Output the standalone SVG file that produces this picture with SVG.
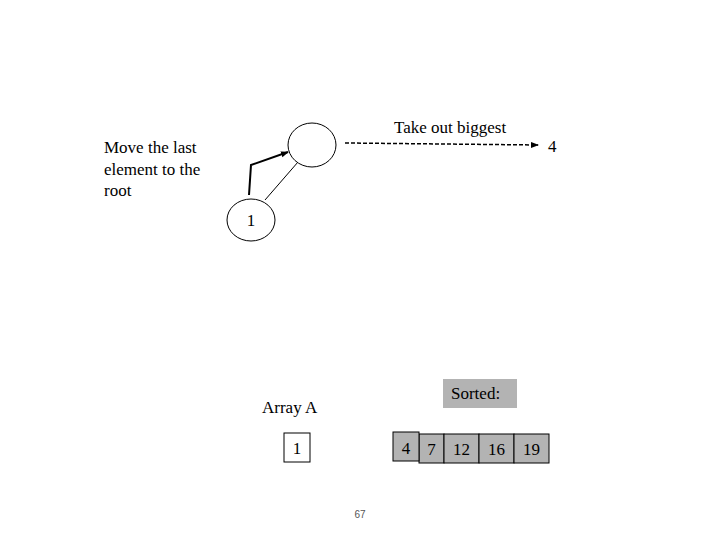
<svg xmlns="http://www.w3.org/2000/svg" width="720" height="540" viewBox="0 0 720 540">
<style>
text{font-family:"Liberation Serif",serif;font-size:17px;fill:#000}
.n{fill:#fff;stroke:#000;stroke-width:1}
.c{fill:#b3b3b3;stroke:#000;stroke-width:1}
</style>
<defs><marker id="ah" markerWidth="8" markerHeight="8" refX="7" refY="4" orient="auto" markerUnits="userSpaceOnUse"><path d="M0,1 L8,4 L0,7 Z" fill="#000"/></marker></defs>
<rect width="720" height="540" fill="#fff"/>
<g id="connectors" fill="none" stroke="#000">
<line x1="265" y1="200" x2="298" y2="162"/>
<polyline points="249,195 251,165 288,152" stroke-width="2" marker-end="url(#ah)"/>
<line x1="345" y1="143" x2="538" y2="145" stroke-dasharray="4,2" stroke-width="1.5" marker-end="url(#ah)"/>
</g>
<g id="root"><ellipse class="n" cx="312" cy="145" rx="24" ry="22"/></g>
<g id="node1"><ellipse class="n" cx="251" cy="220" rx="24" ry="21"/><text x="251" y="226" text-anchor="middle">1</text></g>
<g id="labels">
<text x="394" y="133">Take out biggest</text>
<text x="548" y="152">4</text>
<text x="104" y="153">Move the last</text>
<text x="104" y="175">element to the</text>
<text x="104" y="196">root</text>
<text x="262" y="413">Array A</text>
</g>
<g id="sorted-label"><rect x="443" y="379" width="74" height="29" fill="#b3b3b3"/><text x="451" y="399">Sorted:</text></g>
<g id="arrayA"><rect class="n" x="284" y="433" width="26" height="29"/><text x="297" y="454" text-anchor="middle">1</text></g>
<g id="sorted">
<rect class="c" x="419" y="434" width="25" height="29"/><text x="431.5" y="455" text-anchor="middle">7</text>
<rect class="c" x="444" y="434" width="35" height="29"/><text x="461.5" y="455" text-anchor="middle">12</text>
<rect class="c" x="479" y="434" width="35" height="29"/><text x="496.5" y="455" text-anchor="middle">16</text>
<rect class="c" x="514" y="434" width="35" height="29"/><text x="531.5" y="455" text-anchor="middle">19</text>
<rect class="c" x="393" y="432" width="26" height="29"/><text x="406" y="454" text-anchor="middle">4</text>
</g>
<text x="360" y="518" text-anchor="middle" style="font-family:'Liberation Sans',sans-serif;font-size:10px;fill:#555">67</text>
</svg>
